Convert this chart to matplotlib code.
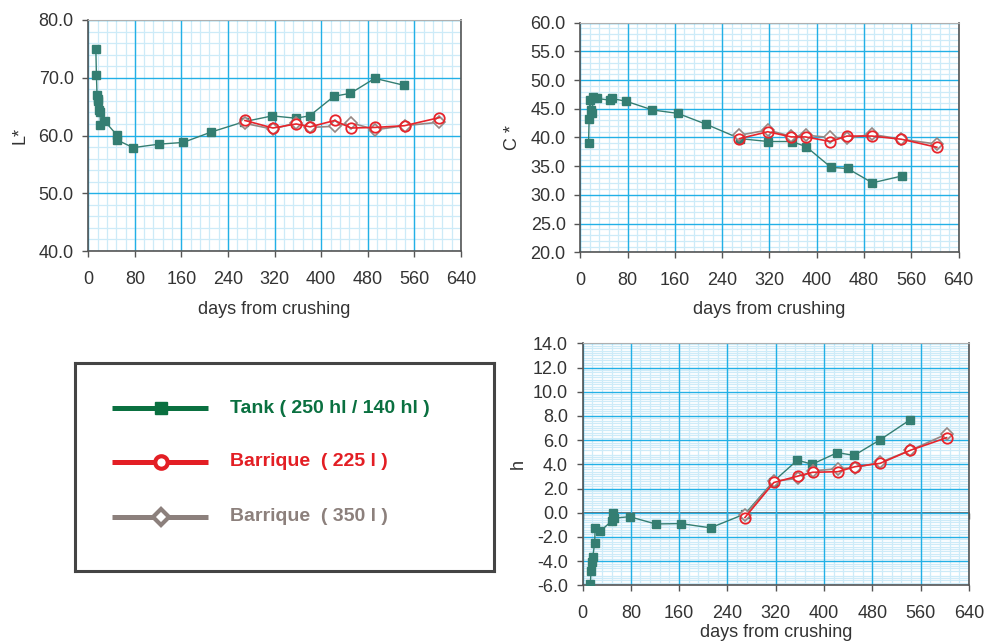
import matplotlib
matplotlib.use('Agg')
import matplotlib.pyplot as plt
from matplotlib.ticker import MultipleLocator, FormatStrFormatter

plt.rcParams['font.family'] = ['Liberation Sans', 'DejaVu Sans']

# --- data ---
barrique_days = [269, 317, 357, 381, 423, 451, 493, 543, 603]

L_tank_days = [13, 14, 15, 16, 17, 19, 20, 21, 28, 49, 50, 77, 121, 163, 211,
               268, 316, 356, 380, 422, 450, 492, 542]
L_tank = [75.0, 70.5, 67.1, 66.3, 66.0, 64.5, 64.1, 61.9, 62.5, 60.1, 59.2, 57.9,
          58.5, 58.8, 60.6, 62.4, 63.4, 63.0, 63.4, 66.8, 67.3, 69.9, 68.7]
L_b225 = [62.6, 61.3, 62.0, 61.5, 62.6, 61.3, 61.4, 61.7, 63.1]
L_b350 = [62.1, 61.1, 62.2, 61.4, 61.6, 62.2, 61.0, 61.7, 62.3]

C_tank_days = [14, 15, 16, 19, 20, 22, 29, 50, 53, 78, 122, 165, 213,
               270, 318, 358, 382, 424, 452, 494, 544]
C_tank = [39.0, 43.2, 46.5, 44.8, 44.2, 47.0, 46.8, 46.5, 46.8, 46.3, 44.8, 44.2,
          42.3, 39.8, 39.3, 39.3, 38.4, 34.8, 34.6, 32.1, 33.3]
C_b225 = [39.8, 41.0, 40.1, 40.1, 39.3, 40.25, 40.25, 39.7, 38.3]
C_b350 = [40.4, 41.3, 40.2, 40.4, 40.0, 39.85, 40.55, 39.7, 38.85]

h_tank_days = [13, 14, 15, 17, 20, 21, 29, 49, 51, 52, 78, 121, 163, 212,
               269, 316, 356, 380, 422, 450, 492, 542]
h_tank = [-5.9, -4.8, -4.05, -3.7, -2.5, -1.25, -1.55, -0.65, 0.0, -0.45, -0.33,
          -0.93, -0.9, -1.25, -0.1, 2.57, 4.35, 4.0, 4.96, 4.74, 6.0, 7.66]
h_b225 = [-0.4, 2.5, 3.03, 3.34, 3.39, 3.8, 4.08, 5.16, 6.2]
h_b350 = [-0.2, 2.6, 2.84, 3.45, 3.64, 3.72, 4.16, 5.16, 6.5]

labels = ['Tank ( 250 hl / 140 hl )', 'Barrique  ( 225 l )', 'Barrique  ( 350 l )']

TANK = '#347e72'
RED = '#e8242b'
GRAY = '#968784'
MAJOR = '#22b0e6'
MINOR = '#cdebf8'
AXC = '#555555'

fig = plt.figure(figsize=(9.84, 6.41), dpi=100)


def make_axes(rect, ylim, ymin):
    # minor grid sits on its own axes underneath, so major lines stay solid
    gax = fig.add_axes(rect, zorder=0)
    gax.set_xlim(0, 640)
    gax.set_ylim(*ylim)
    gax.xaxis.set_minor_locator(MultipleLocator(16))
    gax.yaxis.set_minor_locator(MultipleLocator(ymin))
    gax.grid(which='minor', color=MINOR, lw=0.9)
    gax.tick_params(which='both', length=0, labelbottom=False, labelleft=False)
    for s in gax.spines.values():
        s.set_visible(False)
    ax = fig.add_axes(rect, zorder=1)
    ax.patch.set_visible(False)
    return ax


def style(ax, ylim, ymaj, xlab_y):
    ax.set_xlim(0, 640)
    ax.set_ylim(*ylim)
    ax.xaxis.set_major_locator(MultipleLocator(80))
    ax.yaxis.set_major_locator(MultipleLocator(ymaj))
    ax.yaxis.set_major_formatter(FormatStrFormatter('%.1f'))
    ax.grid(which='major', color=MAJOR, lw=1.0)
    ax.set_axisbelow(True)
    ax.tick_params(which='major', length=4.5, width=1, color=AXC,
                   labelsize=13, labelcolor='#333333')
    ax.tick_params(axis='y', pad=6)
    ax.tick_params(axis='x', pad=10)
    for s in ['left', 'bottom', 'right']:
        ax.spines[s].set_color(AXC)
        ax.spines[s].set_linewidth(1.2)
    ax.spines['top'].set_color('#b0b0b0')
    ax.set_xlabel('days from crushing', fontsize=13, color='#333333')
    ax.xaxis.set_label_coords(0.5, xlab_y)


def draw(ax, tdays, tank, b225, b350):
    ax.plot(tdays, tank, color=TANK, lw=1.0, marker='s', ms=6.3,
            mfc=TANK, mec=TANK, zorder=3)
    ax.plot(barrique_days, b350, color=GRAY, lw=1.2, marker='D', ms=6,
            mfc='white', mec=GRAY, mew=1.2, zorder=4)
    ax.plot(barrique_days, b225, color=RED, lw=1.2, marker='o', ms=7.5,
            mfc='none', mec=RED, mew=1.3, zorder=5)


# L*
rect1 = [0.0897, 0.6084, 0.3788, 0.3604]
ax1 = make_axes(rect1, (40, 80), 2)
draw(ax1, L_tank_days, L_tank, L_b225, L_b350)
style(ax1, (40, 80), 10, -0.216)
ax1.set_ylabel('L*', fontsize=13, color='#333333')
ax1.yaxis.set_label_coords(-0.159, 0.5)

# C*
rect2 = [0.5897, 0.6064, 0.3846, 0.3582]
ax2 = make_axes(rect2, (20, 60), 1)
draw(ax2, C_tank_days, C_tank, C_b225, C_b350)
style(ax2, (20, 60), 5, -0.213)
ax2.set_ylabel('C *', fontsize=13, color='#333333')
ax2.yaxis.set_label_coords(-0.157, 0.5)

# h
rect3 = [0.592, 0.0869, 0.3927, 0.3775]
ax3 = make_axes(rect3, (-6, 14), 0.2)
draw(ax3, h_tank_days, h_tank, h_b225, h_b350)
style(ax3, (-6, 14), 2, -0.16)
ax3.set_ylabel('h', fontsize=13, color='#333333')
ax3.yaxis.set_label_coords(-0.144, 0.5)
zero_ax = ax3.secondary_xaxis(6 / 20)
zero_ax.xaxis.set_major_locator(MultipleLocator(80))
zero_ax.tick_params(labelbottom=False, length=4.5, width=1, color=AXC)
zero_ax.spines['bottom'].set_color(AXC)
zero_ax.spines['bottom'].set_linewidth(1.2)

# legend box
lax = fig.add_axes([0.0762, 0.1097, 0.4258, 0.3245])
lax.set_xlim(0, 1)
lax.set_ylim(0, 1)
lax.set_xticks([])
lax.set_yticks([])
for s in lax.spines.values():
    s.set_color('#444444')
    s.set_linewidth(2.2)
entries = [
    (0.781, '#0a7040', '#0a7040', 's', '#0a7040', labels[0]),
    (0.524, '#e31e24', '#e31e24', 'o', 'white', labels[1]),
    (0.260, '#8c807c', '#8c807c', 'D', 'white', labels[2]),
]
for y, lc, tc, m, fc, txt in entries:
    lax.plot([0.0876, 0.318], [y, y], color=lc, lw=3.6, solid_capstyle='butt')
    lax.plot([0.205], [y], marker=m, ms=9 if m != 'D' else 8.5, mfc=fc, mec=lc,
             mew=3 if m != 's' else 1)
    lax.text(0.37, y, txt, color=tc, fontsize=14, fontweight='bold', va='center')

fig.savefig('out.png', dpi=100)
